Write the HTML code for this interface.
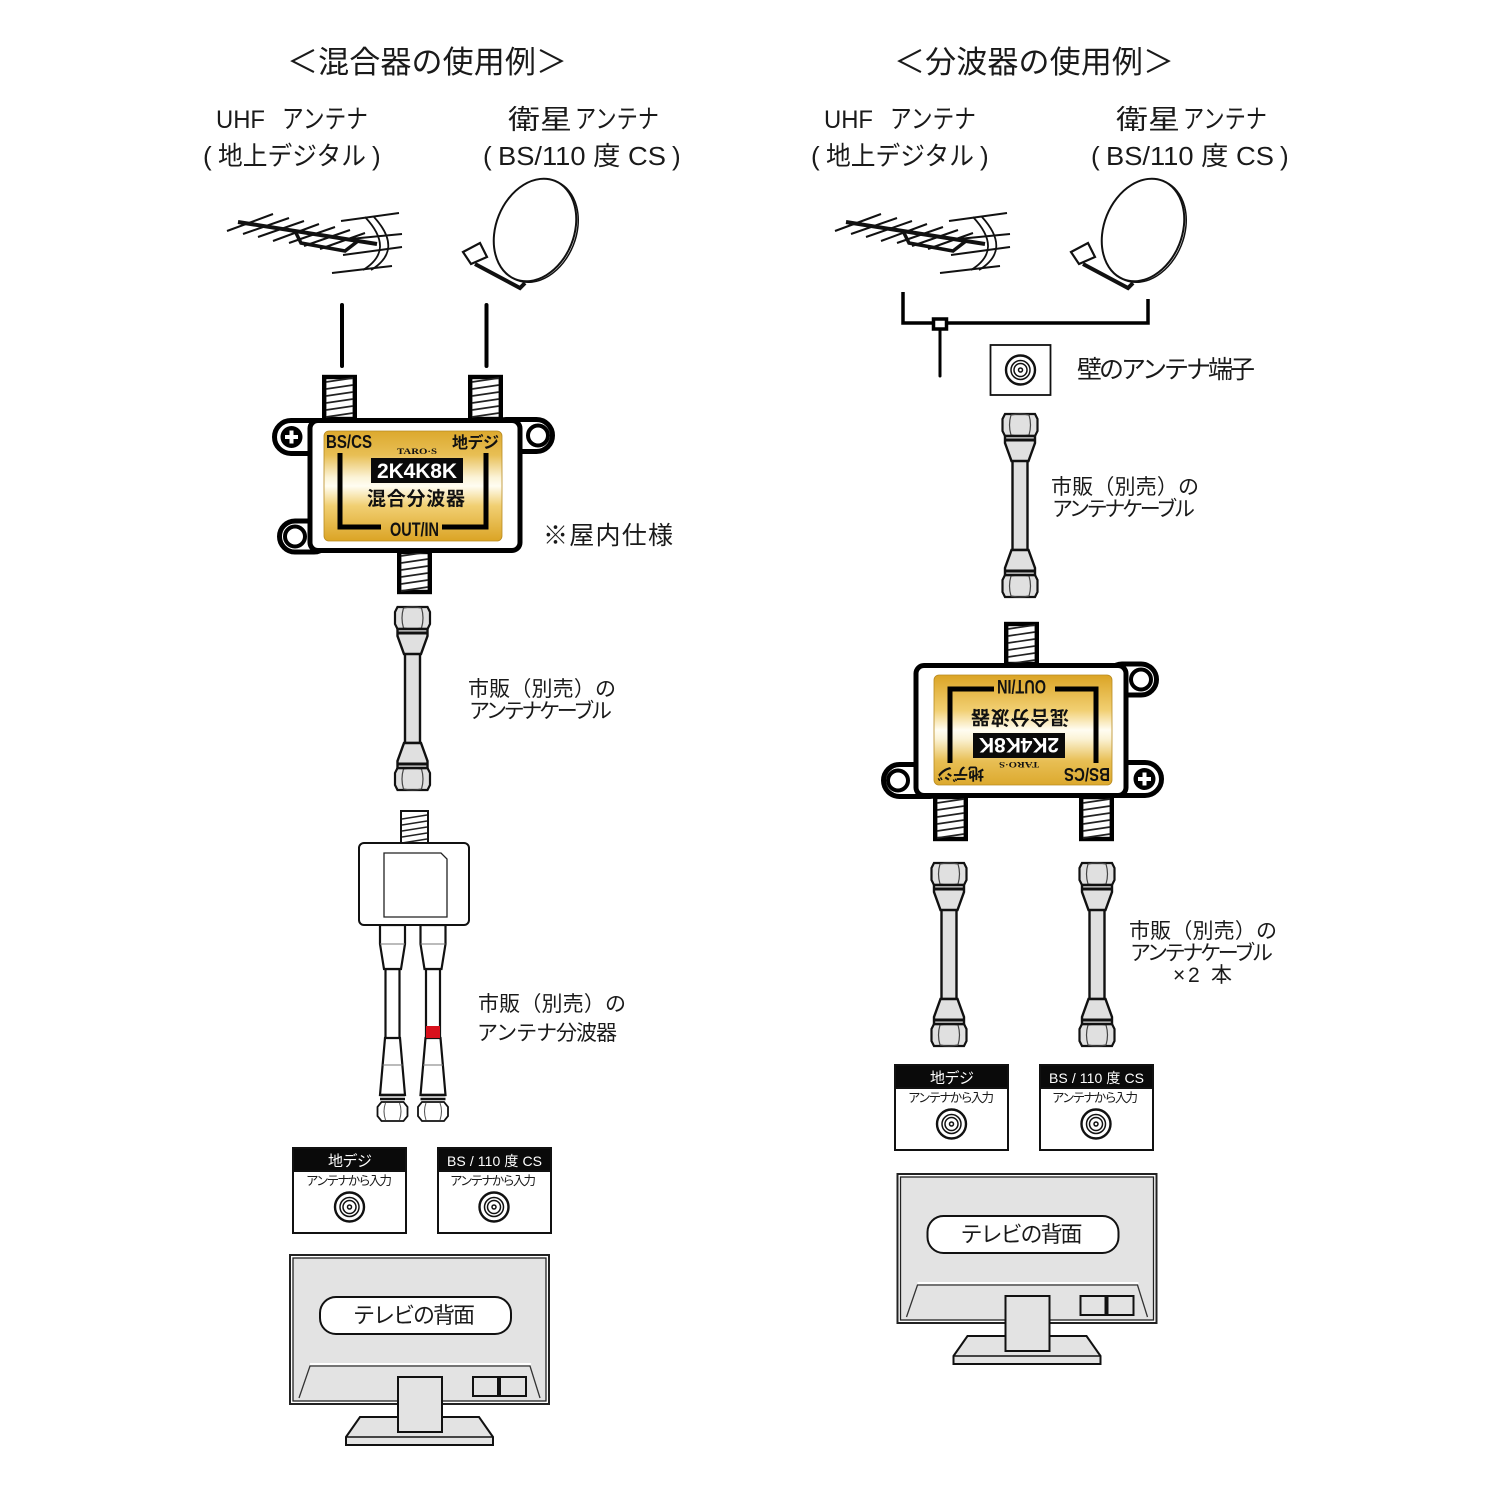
<!DOCTYPE html>
<html lang="ja"><head><meta charset="utf-8"><style>
html,body{margin:0;padding:0;background:#fff}
svg{display:block}
text{font-family:"Liberation Sans","Noto Sans CJK JP",sans-serif;fill:#1a1a1a}
.b{font-weight:700;fill:#111}
</style></head><body>
<svg width="1500" height="1500" viewBox="0 0 1500 1500" xmlns="http://www.w3.org/2000/svg">
<defs>
<linearGradient id="gold" x1="0" y1="0" x2="0" y2="1">
<stop offset="0" stop-color="#dca92e"/><stop offset=".22" stop-color="#e8bf55"/><stop offset=".42" stop-color="#fbf3d6"/><stop offset=".5" stop-color="#fffdf2"/><stop offset=".68" stop-color="#f1cf72"/><stop offset="1" stop-color="#dba425"/>
</linearGradient>
<g id="thr" fill="none" stroke="#222" stroke-width="1.700">
<path d="M0 6L27 2M0 13L27 9M0 20L27 16M0 27L27 23M0 34L27 30M0 41L27 37"/>
</g>
<g id="nut">
<path d="M-15 0H15L17.500 5V17L15 22H-15L-17.500 17V5Z" fill="#e0e0e0" stroke="#111" stroke-width="2.200"/>
<path d="M-9 1Q-12 11-9 21M9 1Q12 11 9 21M-9 1Q0 -1 9 1M-9 21Q0 23 9 21" fill="none" stroke="#444" stroke-width="1.200"/>
</g>
<g id="cable">
<use href="#nut"/>
<use href="#nut" y="161"/>
<rect x="-7.500" y="46" width="15" height="90" fill="#e0e0e0" stroke="#111" stroke-width="2.400"/>
<path d="M-15 22H15V29L8.500 47H-8.500L-15 29Z" fill="#e0e0e0" stroke="#111" stroke-width="2.400"/>
<path d="M-15 161H15V154L8.500 136H-8.500L-15 154Z" fill="#e0e0e0" stroke="#111" stroke-width="2.400"/>
<path d="M-15 26H15M-15 157H15" stroke="#111" stroke-width="3"/>
</g>
<g id="leg" fill="#fff" stroke="#111" stroke-width="2.200">
<rect x="-7" y="44" width="14" height="70"/>
<path d="M-12.500 0V19L-8.500 44H8.500L12.500 19V0Z"/>
<path d="M-7.500 113H7.500L12.500 170H-12.500Z"/>
<path d="M-12.500 19H12.500M-10 140H10" stroke="#777" stroke-width="1"/>
<path d="M-12.500 170H12.500M-12.500 174H12.500" stroke-width="2.400"/>
<path d="M-11 177H11L15 182V191L11 196H-11L-15 191V182Z" stroke-width="1.800"/>
<path d="M-7 178Q-10 186-7 195M7 178Q10 186 7 195" fill="none" stroke="#555" stroke-width="1"/>
</g>
<g id="dev">
<rect x="274.500" y="420.500" width="60" height="33" rx="16.500" fill="#fff" stroke="#000" stroke-width="5"/>
<rect x="490" y="419.500" width="62.500" height="32" rx="16" fill="#fff" stroke="#000" stroke-width="5"/>
<rect x="279.500" y="521" width="50" height="31" rx="15.500" fill="#fff" stroke="#000" stroke-width="5"/>
<circle cx="291.500" cy="437" r="11" fill="#000"/>
<path d="M285 437H298M291.500 430.500V443.500" stroke="#fff" stroke-width="4"/>
<circle cx="538" cy="435.500" r="10" fill="#fff" stroke="#000" stroke-width="4"/>
<circle cx="295" cy="536.500" r="10" fill="#fff" stroke="#000" stroke-width="4"/>
<g fill="#fff" stroke="#000" stroke-width="4.400">
<rect x="324.200" y="377" width="30.600" height="42"/>
<rect x="470.200" y="377" width="30.600" height="42"/>
<rect x="399.200" y="552" width="30.600" height="40"/>
</g>
<use href="#thr" x="326" y="376"/>
<use href="#thr" x="472" y="376"/>
<use href="#thr" x="401" y="550"/>
<rect x="310" y="420.500" width="210" height="130" rx="8" fill="#fff" stroke="#000" stroke-width="5"/>
<rect x="324" y="431" width="178" height="110" rx="5" fill="url(#gold)" stroke="#b88a20" stroke-width=".8"/>
<path d="M340 453V527H381M442 527H486V453" fill="none" stroke="#000" stroke-width="5"/>
<rect x="371" y="458" width="92" height="25" fill="#0a0a0a"/>
</g>
<g id="jack" fill="none" stroke="#111">
<circle r="14.500" stroke-width="2.400"/><circle r="9.500" stroke-width="1.500"/><circle r="6.500" stroke-width="1.500"/><circle r="2" stroke-width="1.500"/>
</g>
<g id="uhf" fill="none" stroke="#111">
<path stroke-width="2" d="M227 231L273 214M243 234L289 218M258 237L304 221M273 241L319 224M289 243L335 227M304 246L350 230M320 249L365 233"/>
<path stroke-width="2" d="M341 221L399 213M350 239L402 234M343 255L402 247M332 273L392 266"/>
<path stroke-width="1.800" d="M365 217Q396 250 363 270M374 217Q404 250 371 270"/>
<path stroke-width="4" d="M238 222L377 244"/>
<path stroke-width="3.500" d="M296 233L301 243L345 251L358 241"/>
</g>
<g id="dish" fill="none" stroke="#111">
<ellipse cx="537" cy="231" rx="39" ry="53" transform="rotate(22 537 231)" fill="#fff" stroke-width="1.500"/>
<ellipse cx="535" cy="230" rx="39" ry="53" transform="rotate(22 535 230)" fill="#fff" stroke-width="2"/>
<path d="M463 252L480 243L487 257L471 264Z" fill="#fff" stroke-width="2.200"/>
<path d="M475 264L520 288L525 283" stroke-width="4"/>
</g>
<g id="tv">
<rect x="290" y="1255" width="259" height="149" fill="#fff" stroke="#222" stroke-width="2"/>
<rect x="293" y="1258" width="253" height="143" fill="#e3e3e3" stroke="#222" stroke-width="1.300"/>
<path d="M310 1364H531" fill="none" stroke="#fff" stroke-width="2"/>
<path d="M299 1398L310 1366H530L540 1398" fill="none" stroke="#333" stroke-width="1.300"/>
<path d="M360 1417H479L493 1437V1445H346V1437Z" fill="#e3e3e3" stroke="#111" stroke-width="2"/>
<path d="M346 1437H493" stroke="#111" stroke-width="1.500"/>
<rect x="398" y="1377" width="44" height="55" fill="#e3e3e3" stroke="#111" stroke-width="2"/>
<rect x="473" y="1377" width="25" height="19" fill="none" stroke="#111" stroke-width="2"/>
<rect x="500" y="1377" width="26" height="19" fill="none" stroke="#111" stroke-width="2"/>
<rect x="320" y="1297" width="191" height="37" rx="16" fill="#fff" stroke="#111" stroke-width="2"/>
</g>
<g id="boxes" fill="#fff" stroke="#111" stroke-width="2">
<rect x="293" y="1148" width="113" height="85"/><rect x="438" y="1148" width="113" height="85"/>
<rect x="293" y="1148" width="113" height="23" fill="#0a0a0a"/><rect x="438" y="1148" width="113" height="23" fill="#0a0a0a"/>
</g>
</defs>

<rect width="1500" height="1500" fill="#fff"/>

<!-- titles -->
<text x="287" y="73" font-size="31" textLength="280">＜混合器の使用例＞</text>
<text x="894" y="73" font-size="31" textLength="280">＜分波器の使用例＞</text>

<!-- left antenna labels -->
<text x="216" y="128" font-size="25" textLength="49" lengthAdjust="spacingAndGlyphs">UHF</text>
<text x="282" y="128" font-size="26" textLength="86" lengthAdjust="spacingAndGlyphs">アンテナ</text>
<text x="203" y="165" font-size="26">(</text>
<text x="218" y="165" font-size="26" textLength="148" lengthAdjust="spacingAndGlyphs">地上デジタル</text>
<text x="372" y="165" font-size="26">)</text>
<text x="508" y="129" font-size="27" textLength="64" lengthAdjust="spacingAndGlyphs">衛星</text>
<text x="575" y="128" font-size="26" textLength="84" lengthAdjust="spacingAndGlyphs">アンテナ</text>
<text x="483" y="165" font-size="26">(</text>
<text x="498" y="165" font-size="26" textLength="168" lengthAdjust="spacingAndGlyphs">BS/110 度 CS</text>
<text x="672" y="165" font-size="26">)</text>

<!-- right antenna labels -->
<text x="824" y="128" font-size="25" textLength="49" lengthAdjust="spacingAndGlyphs">UHF</text>
<text x="890" y="128" font-size="26" textLength="86" lengthAdjust="spacingAndGlyphs">アンテナ</text>
<text x="811" y="165" font-size="26">(</text>
<text x="826" y="165" font-size="26" textLength="148" lengthAdjust="spacingAndGlyphs">地上デジタル</text>
<text x="980" y="165" font-size="26">)</text>
<text x="1116" y="129" font-size="27" textLength="64" lengthAdjust="spacingAndGlyphs">衛星</text>
<text x="1183" y="128" font-size="26" textLength="84" lengthAdjust="spacingAndGlyphs">アンテナ</text>
<text x="1091" y="165" font-size="26">(</text>
<text x="1106" y="165" font-size="26" textLength="168" lengthAdjust="spacingAndGlyphs">BS/110 度 CS</text>
<text x="1280" y="165" font-size="26">)</text>

<use href="#uhf"/><use href="#dish"/>
<use href="#uhf" x="608"/><use href="#dish" x="608"/>

<!-- left lines -->
<path d="M342 305V366M486.500 305V366" stroke="#000" stroke-width="4" stroke-linecap="round"/>

<!-- left device -->
<use href="#dev"/>
<text class="b" x="326" y="448" font-size="18" textLength="46" lengthAdjust="spacingAndGlyphs">BS/CS</text>
<text class="b" x="452" y="448" font-size="16" textLength="47">地デジ</text>
<text class="b" x="397" y="454" font-size="8" textLength="40" lengthAdjust="spacingAndGlyphs" style="font-family:'Liberation Serif',serif">TARO·S</text>
<text class="b" x="377" y="478" font-size="21" textLength="80" style="fill:#fff">2K4K8K</text>
<text class="b" x="367" y="505" font-size="19" textLength="98">混合分波器</text>
<text class="b" x="390" y="536" font-size="19" textLength="49" lengthAdjust="spacingAndGlyphs">OUT/IN</text>

<text x="543" y="544" font-size="25" textLength="130">※屋内仕様</text>

<use href="#cable" x="412.500" y="607"/>
<text x="468" y="696" font-size="21" textLength="148">市販（別売）の</text>
<text x="469" y="718" font-size="21" textLength="143">アンテナケーブル</text>

<!-- splitter -->
<rect x="401" y="811" width="27" height="33" fill="#fff" stroke="#111" stroke-width="2"/>
<path d="M402 819L427 815M402 825L427 821M402 831L427 827M402 837L427 833M402 843L427 839" fill="none" stroke="#222" stroke-width="1.500"/>
<use href="#leg" x="392.500" y="925"/>
<use href="#leg" x="433" y="925"/>
<rect x="426" y="1026" width="14" height="12" fill="#d8101c"/>
<rect x="359" y="843" width="110" height="82" rx="5" fill="#fff" stroke="#111" stroke-width="2"/>
<path d="M384 853H441L447 859V917H384Z" fill="#fff" stroke="#222" stroke-width="1.300"/>
<text x="478" y="1011" font-size="21" textLength="148">市販（別売）の</text>
<text x="477" y="1040" font-size="21" textLength="140">アンテナ分波器</text>

<!-- left jacks -->
<use href="#boxes"/>
<text x="328" y="1166" font-size="15" textLength="44" style="fill:#fff">地デジ</text>
<text x="447" y="1166" font-size="14" textLength="95" style="fill:#fff">BS / 110 度 CS</text>
<text x="306" y="1185" font-size="12.500" textLength="86">アンテナから入力</text>
<text x="450" y="1185" font-size="12.500" textLength="86">アンテナから入力</text>
<use href="#jack" x="349.500" y="1207"/><use href="#jack" x="494" y="1207"/>

<use href="#tv"/>
<text x="353" y="1323" font-size="22" textLength="122">テレビの背面</text>

<!-- right -->
<path d="M903 292V323H1148V299" fill="none" stroke="#000" stroke-width="3.500"/>
<rect x="933.500" y="319" width="13" height="10" fill="#fff" stroke="#000" stroke-width="3.500"/>
<path d="M940 330V376" stroke="#000" stroke-width="3" stroke-linecap="round"/>
<rect x="990.500" y="345" width="60" height="50" fill="#fff" stroke="#111" stroke-width="1.800"/>
<use href="#jack" x="1020.500" y="370"/>
<text x="1077" y="378" font-size="25" textLength="178">壁のアンテナ端子</text>

<use href="#cable" x="1020" y="414"/>
<text x="1051" y="494" font-size="21" textLength="148">市販（別売）の</text>
<text x="1052" y="516" font-size="21" textLength="143">アンテナケーブル</text>

<use href="#dev" transform="translate(1436 1216) rotate(180)"/>
<g transform="translate(1436 1216) rotate(180)">
<text class="b" x="326" y="448" font-size="18" textLength="46" lengthAdjust="spacingAndGlyphs">BS/CS</text>
<text class="b" x="452" y="448" font-size="16" textLength="47">地デジ</text>
<text class="b" x="397" y="454" font-size="8" textLength="40" lengthAdjust="spacingAndGlyphs" style="font-family:'Liberation Serif',serif">TARO·S</text>
<text class="b" x="377" y="478" font-size="21" textLength="80" style="fill:#fff">2K4K8K</text>
<text class="b" x="367" y="505" font-size="19" textLength="98">混合分波器</text>
<text class="b" x="390" y="536" font-size="19" textLength="49" lengthAdjust="spacingAndGlyphs">OUT/IN</text>
</g>

<use href="#cable" x="949" y="863"/>
<use href="#cable" x="1097" y="863"/>
<text x="1129" y="938" font-size="21" textLength="148">市販（別売）の</text>
<text x="1130" y="960" font-size="21" textLength="143">アンテナケーブル</text>
<text x="1173" y="982" font-size="21" textLength="59">×2 本</text>

<use href="#boxes" x="602" y="-83"/>
<text x="930" y="1083" font-size="15" textLength="44" style="fill:#fff">地デジ</text>
<text x="1049" y="1083" font-size="14" textLength="95" style="fill:#fff">BS / 110 度 CS</text>
<text x="908" y="1102" font-size="12.500" textLength="86">アンテナから入力</text>
<text x="1052" y="1102" font-size="12.500" textLength="86">アンテナから入力</text>
<use href="#jack" x="951.500" y="1124"/><use href="#jack" x="1096" y="1124"/>

<use href="#tv" x="607.500" y="-81"/>
<text x="960.500" y="1242" font-size="22" textLength="122">テレビの背面</text>
</svg>
</body></html>
